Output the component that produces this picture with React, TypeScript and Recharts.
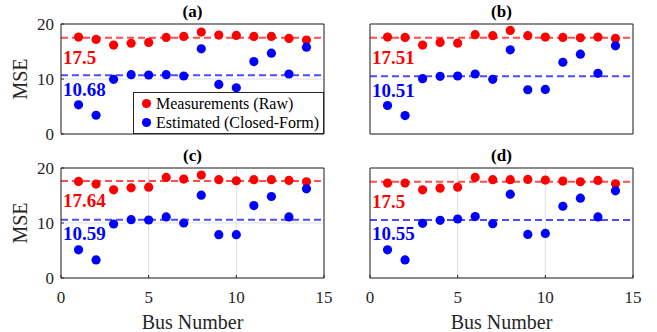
import React from 'react';
import { ScatterChart, Scatter, XAxis, YAxis, CartesianGrid, ReferenceLine, Legend, Label } from 'recharts';

const FONT = '"Liberation Serif", "Times New Roman", Times, serif';

const busNumbers = [1, 2, 3, 4, 5, 6, 7, 8, 9, 10, 11, 12, 13, 14];

const rawA = [17.62, 17.2, 16.16, 16.5, 16.65, 17.56, 17.74, 18.54, 17.99, 17.93, 17.74, 17.74, 17.38, 17.07];
const estA = [5.3, 3.41, 9.94, 10.79, 10.73, 10.79, 10.55, 15.49, 9.02, 8.41, 13.17, 14.7, 10.91, 15.79];

const rawB = [17.62, 17.56, 16.16, 16.65, 16.52, 18.05, 17.87, 18.84, 17.87, 17.62, 17.56, 17.5, 17.62, 17.38];
const estB = [5.18, 3.35, 10.06, 10.49, 10.55, 10.91, 9.94, 15.3, 8.05, 8.11, 13.05, 14.51, 11.04, 16.04];

const rawC = [17.56, 17.07, 16.04, 16.4, 16.52, 18.29, 17.99, 18.72, 17.87, 17.68, 17.87, 17.87, 17.74, 17.5];
const estC = [5.12, 3.29, 9.82, 10.61, 10.55, 11.1, 10.0, 15.06, 7.87, 7.87, 13.17, 14.82, 11.1, 16.22];

const rawD = [17.26, 17.26, 16.04, 16.34, 16.52, 18.29, 17.87, 17.87, 17.93, 17.8, 17.62, 17.5, 17.74, 17.13];
const estD = [5.12, 3.29, 9.94, 10.49, 10.73, 11.16, 9.88, 15.24, 7.93, 8.11, 13.05, 14.51, 11.1, 15.85];

const meanRaw = [17.5, 17.51, 17.64, 17.5];
const meanEst = [10.68, 10.51, 10.59, 10.55];
const meanRawLabels = ['17.5', '17.51', '17.64', '17.5'];
const meanEstLabels = ['10.68', '10.51', '10.59', '10.55'];

const titles = ['(a)', '(b)', '(c)', '(d)'];
const xTicks = [0, 5, 10, 15];
const yTicks = [0, 10, 20];
const seriesNames = ['Measurements (Raw)', 'Estimated (Closed-Form)'];
const xLabel = 'Bus Number';
const yLabel = 'MSE';

const rawSets = [rawA, rawB, rawC, rawD];
const estSets = [estA, estB, estC, estD];

const AX = '#262626';
const RED = '#ff0000';
const BLUE = '#0000ff';

const toPoints = (vals: number[]) => busNumbers.map((b, i) => ({ x: b, y: vals[i] }));

const dot = (color: string) => (props: any) => (
  <circle cx={props.cx} cy={props.cy} r={4.6} fill={color} stroke="none" />
);

const LegendBox = (props: any) => {
  const payload = [...(props.payload || [])].sort(
    (a: any, b: any) => seriesNames.indexOf(a.value) - seriesNames.indexOf(b.value)
  );
  return (
    <div
      style={{
        width: 191,
        height: 42,
        boxSizing: 'border-box',
        border: `1px solid ${AX}`,
        background: '#fff',
        fontFamily: FONT,
        fontSize: 16,
        color: '#000',
        position: 'relative',
      }}
    >
      {payload.map((entry: any, i: number) => (
        <div
          key={i}
          style={{
            position: 'absolute',
            left: 0,
            top: i === 0 ? 1 : 20,
            height: 19,
            display: 'flex',
            alignItems: 'center',
            whiteSpace: 'nowrap',
            lineHeight: '19px',
            fontFamily: FONT,
          }}
        >
          <svg width={22} height={19} style={{ display: 'block' }}>
            <circle cx={12.5} cy={9.5} r={4.6} fill={entry.color} />
          </svg>
          <span style={{ fontFamily: FONT }}>{entry.value}</span>
        </div>
      ))}
    </div>
  );
};

interface PanelProps {
  idx: number;
  left: number;
  top: number;
  width: number;
  height: number;
  margin: { top: number; right: number; bottom: number; left: number };
  yAxisWidth: number;
  xAxisHeight: number;
  showYLabels: boolean;
  showXLabels: boolean;
  showLegend: boolean;
}

const Panel = (p: PanelProps) => {
  const raw = toPoints(rawSets[p.idx]);
  const est = toPoints(estSets[p.idx]);
  const tickStyle = { fontSize: 17, fill: AX, fontFamily: FONT };
  return (
    <div style={{ position: 'absolute', left: p.left, top: p.top }}>
      <ScatterChart width={p.width} height={p.height} margin={p.margin} style={{ fontFamily: FONT }}>
        <CartesianGrid stroke="#dedede" strokeWidth={1} />
        <XAxis
          type="number"
          dataKey="x"
          domain={[0, 15]}
          ticks={xTicks}
          interval={0}
          height={p.xAxisHeight}
          tick={p.showXLabels ? tickStyle : false}
          tickSize={-3}
          tickMargin={16}
          axisLine={{ stroke: AX }}
          tickLine={{ stroke: AX }}
          allowDataOverflow
        >
          {p.showXLabels && (
            <Label
              content={(lp: any) => {
                const vb = lp.viewBox || { x: 0, y: 0, width: 0, height: 0 };
                return (
                  <text
                    x={vb.x + vb.width / 2}
                    y={vb.y + 51}
                    textAnchor="middle"
                    fontSize={20}
                    fill={AX}
                    fontFamily={FONT}
                  >
                    {xLabel}
                  </text>
                );
              }}
            />
          )}
        </XAxis>
        <XAxis
          xAxisId="top"
          orientation="top"
          type="number"
          domain={[0, 15]}
          ticks={xTicks}
          interval={0}
          height={1}
          tick={false}
          tickSize={-3}
          axisLine={{ stroke: AX }}
          tickLine={{ stroke: AX }}
        >
          <Label
            content={(lp: any) => {
              const vb = lp.viewBox || { x: 0, y: 0, width: 0, height: 0 };
              return (
                <text
                  x={vb.x + vb.width / 2}
                  y={vb.y + vb.height - 7}
                  textAnchor="middle"
                  fontSize={17}
                  fontWeight="bold"
                  fill="#000"
                  fontFamily={FONT}
                >
                  {titles[p.idx]}
                </text>
              );
            }}
          />
        </XAxis>
        <YAxis
          type="number"
          dataKey="y"
          domain={[0, 20]}
          ticks={yTicks}
          interval={0}
          width={p.yAxisWidth}
          tick={p.showYLabels ? tickStyle : false}
          tickSize={-3}
          tickMargin={10}
          axisLine={{ stroke: AX }}
          tickLine={{ stroke: AX }}
          allowDataOverflow
        >
          {p.showYLabels && (
            <Label
              content={(lp: any) => {
                const vb = lp.viewBox || { x: 0, y: 0, width: 0, height: 0 };
                const cy = vb.y + vb.height / 2;
                return (
                  <text
                    x={27}
                    y={cy}
                    transform={`rotate(-90, 27, ${cy})`}
                    textAnchor="middle"
                    fontSize={20}
                    fill={AX}
                    fontFamily={FONT}
                  >
                    {yLabel}
                  </text>
                );
              }}
            />
          )}
        </YAxis>
        <YAxis
          yAxisId="right"
          orientation="right"
          type="number"
          domain={[0, 20]}
          ticks={yTicks}
          interval={0}
          width={1}
          tick={false}
          tickSize={-3}
          axisLine={{ stroke: AX }}
          tickLine={{ stroke: AX }}
        />
        <Scatter
          name={seriesNames[0]}
          data={raw}
          fill={RED}
          shape={dot(RED)}
          isAnimationActive={false}
        />
        <Scatter
          name={seriesNames[1]}
          data={est}
          fill={BLUE}
          shape={dot(BLUE)}
          isAnimationActive={false}
        />
        <ReferenceLine
          y={meanRaw[p.idx]}
          stroke={RED}
          strokeOpacity={0.7}
          strokeWidth={2}
          strokeDasharray="7 4"
          label={{
            content: (lp: any) => {
              const vb = lp.viewBox || { x: 0, y: 0 };
              return (
                <text x={vb.x + 2} y={vb.y + 26} fontSize={19} fontWeight="bold" fill={RED} fontFamily={FONT}>
                  {meanRawLabels[p.idx]}
                </text>
              );
            },
          }}
        />
        <ReferenceLine
          y={meanEst[p.idx]}
          stroke={BLUE}
          strokeOpacity={0.7}
          strokeWidth={2}
          strokeDasharray="7 4"
          label={{
            content: (lp: any) => {
              const vb = lp.viewBox || { x: 0, y: 0 };
              return (
                <text x={vb.x + 2} y={vb.y + 20.5} fontSize={19} fontWeight="bold" fill={BLUE} fontFamily={FONT}>
                  {meanEstLabels[p.idx]}
                </text>
              );
            },
          }}
        />
        {p.showLegend && (
          <Legend
            layout="vertical"
            align="center"
            verticalAlign="middle"
            content={<LegendBox />}
            wrapperStyle={{ position: 'absolute', left: 133, top: 92, width: 191, height: 42 }}
          />
        )}
      </ScatterChart>
    </div>
  );
};

export default function App() {
  return (
    <div
      style={{
        position: 'absolute',
        left: 0,
        top: 0,
        width: 657,
        height: 332,
        background: '#fff',
        overflow: 'hidden',
        fontFamily: FONT,
      }}
    >
      <Panel
        idx={0}
        left={0}
        top={0}
        width={340}
        height={150}
        margin={{ top: 23, right: 15, bottom: 15, left: 0 }}
        yAxisWidth={61}
        xAxisHeight={1}
        showYLabels
        showXLabels={false}
        showLegend
      />
      <Panel
        idx={1}
        left={340}
        top={0}
        width={317}
        height={150}
        margin={{ top: 23, right: 23, bottom: 15, left: 0 }}
        yAxisWidth={30}
        xAxisHeight={1}
        showYLabels={false}
        showXLabels={false}
        showLegend={false}
      />
      <Panel
        idx={2}
        left={0}
        top={140}
        width={340}
        height={192}
        margin={{ top: 27, right: 15, bottom: 0, left: 0 }}
        yAxisWidth={61}
        xAxisHeight={54}
        showYLabels
        showXLabels
        showLegend={false}
      />
      <Panel
        idx={3}
        left={340}
        top={140}
        width={317}
        height={192}
        margin={{ top: 27, right: 23, bottom: 0, left: 0 }}
        yAxisWidth={30}
        xAxisHeight={54}
        showYLabels={false}
        showXLabels
        showLegend={false}
      />
    </div>
  );
}
